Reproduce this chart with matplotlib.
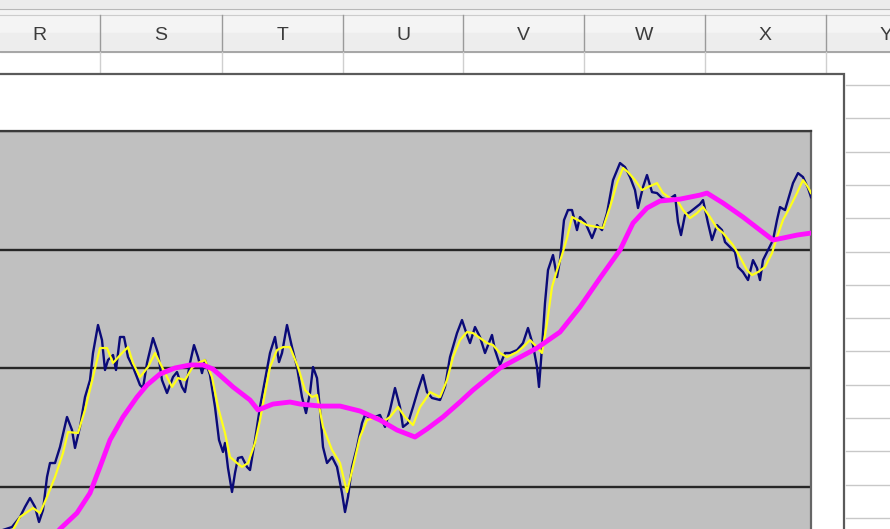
import matplotlib.pyplot as plt
from matplotlib.patches import Rectangle

# spreadsheet columns seen above the chart
col_letters = ['R', 'S', 'T', 'U', 'V', 'W', 'X', 'Y']
col_edges = [-21, 100, 222, 343, 463, 584, 705, 826, 947]

# price series (dark blue)
price_day = [3, 12, 20, 25, 30, 35, 39, 43, 47, 50, 55, 60, 67, 72, 75, 80, 85, 90, 93, 98,
             102, 105, 108, 113, 116, 120, 124, 128, 133, 140, 143, 147, 153, 158, 162, 167, 173, 177, 182, 185,
             190, 194, 198, 202, 205, 210, 215, 219, 223, 225, 228, 232, 235, 238, 242, 247, 250, 255, 260, 265,
             270, 275, 279, 282, 287, 292, 297, 302, 306, 310, 313, 317, 320, 323, 327, 332, 337, 342, 345, 348,
             352, 357, 362, 365, 370, 375, 380, 385, 390, 395, 400, 403, 408, 413, 418, 423, 427, 432, 440, 445,
             450, 457, 462, 467, 470, 475, 480, 485, 492, 495, 500, 505, 510, 517, 523, 528, 533, 537, 539, 542,
             545, 548, 553, 557, 560, 564, 568, 572, 577, 580, 585, 592, 597, 602, 607, 613, 620, 625, 630, 635,
             638, 643, 647, 652, 657, 662, 668, 675, 678, 681, 685, 690, 695, 700, 703, 708, 712, 717, 722, 725,
             730, 735, 738, 743, 748, 753, 757, 760, 763, 768, 773, 777, 780, 785, 790, 793, 798, 803, 808, 811]
price = [563.8, 566.3, 574.7, 583.2, 590.7, 583.2, 570.5, 580.6, 608.4, 620.2, 620.2, 633.7, 659.0, 648.0, 632.9, 650.6, 675.8, 690.1, 712.9, 736.5,
         723.8, 698.6, 707.0, 711.2, 698.6, 726.4, 726.4, 709.5, 701.1, 685.9, 683.4, 704.5, 725.5, 712.9, 690.1, 679.2, 692.7, 696.9, 684.3, 680.0,
         704.5, 719.6, 709.5, 696.0, 707.0, 694.4, 667.4, 639.6, 629.5, 637.1, 616.0, 595.8, 611.8, 624.4, 625.3, 616.9, 614.3, 639.6, 667.4, 690.1,
         712.9, 726.4, 705.3, 712.9, 736.5, 717.9, 701.1, 675.8, 662.3, 679.2, 701.1, 691.8, 664.9, 633.7, 620.2, 625.3, 616.9, 594.9, 578.9, 591.6,
         616.9, 633.7, 653.9, 660.7, 658.1, 659.0, 660.7, 650.6, 664.9, 683.4, 667.4, 650.6, 653.9, 667.4, 681.7, 694.4, 680.0, 675.0, 673.3, 684.3,
         709.5, 729.7, 740.7, 728.1, 721.3, 734.8, 726.4, 712.9, 728.1, 715.4, 702.8, 712.9, 712.9, 715.4, 721.3, 734.0, 719.6, 701.1, 684.3, 717.9,
         755.0, 782.8, 795.5, 776.9, 791.2, 824.9, 833.4, 833.4, 816.5, 827.5, 823.3, 809.8, 820.7, 816.5, 830.8, 858.6, 873.0, 869.6, 861.2, 850.2,
         835.1, 852.8, 862.9, 848.5, 847.7, 843.5, 841.8, 846.0, 823.3, 812.3, 829.2, 831.7, 835.1, 838.4, 841.8, 822.4, 808.1, 820.7, 816.5, 806.4,
         802.2, 798.0, 785.4, 781.1, 774.4, 791.2, 784.5, 774.4, 791.2, 799.7, 808.1, 825.0, 835.9, 833.4, 847.7, 856.1, 864.5, 861.2, 851.9, 844.3]

# short average (yellow)
short_day = [13, 20, 33, 40, 47, 55, 63, 68, 78, 85, 93, 100, 107, 113, 122, 128, 133, 140, 148, 155,
             162, 172, 178, 185, 192, 198, 205, 212, 218, 225, 230, 237, 242, 248, 255, 260, 265, 270, 277, 283,
             290, 298, 305, 312, 317, 323, 332, 340, 347, 353, 360, 367, 377, 383, 390, 398, 405, 413, 420, 427,
             430, 440, 447, 453, 460, 467, 473, 480, 487, 493, 500, 507, 517, 523, 530, 537, 542, 547, 552, 557,
             562, 567, 572, 578, 587, 597, 603, 610, 617, 623, 628, 635, 642, 648, 657, 663, 670, 677, 683, 690,
             697, 703, 710, 717, 723, 733, 740, 747, 752, 758, 765, 772, 777, 783, 790, 797, 803, 808, 811]
short_avg = [563.8, 574.7, 582.3, 578.1, 591.6, 608.4, 628.6, 646.3, 645.5, 664.9, 692.7, 717.1, 717.1, 704.5, 712.9, 717.9, 704.5, 692.7, 701.1, 712.9,
             701.1, 684.3, 691.8, 690.1, 700.3, 704.5, 707.0, 692.7, 667.4, 645.5, 625.3, 620.2, 616.9, 620.2, 637.1, 656.4, 679.2, 701.1, 715.4, 717.9,
             717.9, 701.1, 681.7, 675.8, 677.5, 650.6, 631.2, 620.2, 595.8, 616.9, 642.1, 656.4, 659.0, 654.8, 659.0, 667.4, 659.0, 652.2, 667.4, 675.8,
             680.0, 675.8, 690.1, 709.5, 723.8, 730.6, 729.7, 725.5, 721.3, 719.6, 712.9, 709.5, 713.7, 717.9, 723.8, 717.9, 712.9, 738.2, 768.5, 782.8,
             795.5, 809.8, 827.5, 824.9, 820.7, 819.1, 818.2, 835.9, 856.1, 868.8, 865.4, 858.6, 850.2, 852.8, 856.1, 847.7, 843.5, 841.8, 833.4, 826.6,
             830.8, 835.9, 827.5, 818.2, 814.0, 803.9, 793.8, 782.8, 778.6, 781.1, 785.4, 797.1, 810.6, 825.0, 835.9, 847.7, 858.6, 852.8, 847.7]

# long moving average (magenta)
long_day = [55, 60, 77, 90, 100, 110, 123, 137, 147, 160, 175, 190, 203, 213, 233, 250, 258, 273, 290, 300,
            320, 340, 360, 380, 397, 415, 427, 443, 460, 473, 500, 537, 560, 580, 600, 620, 633, 647, 660, 680,
            700, 707, 723, 743, 760, 773, 783, 797, 811]
long_avg = [559.6, 564.6, 578.1, 594.9, 616.9, 639.6, 659.0, 675.8, 685.9, 695.2, 700.3, 702.8, 702.8, 699.4, 684.3, 673.3, 664.9, 669.9, 671.6, 669.9,
            668.2, 668.2, 664.0, 656.4, 648.0, 642.1, 648.9, 659.0, 671.6, 681.7, 700.3, 717.1, 730.6, 751.7, 776.1, 799.7, 822.4, 835.1, 841.0, 842.6,
            846.0, 847.7, 839.3, 827.5, 816.5, 808.1, 809.8, 812.3, 814.0]

W, H = 890, 529
fig = plt.figure(figsize=(W / 100, H / 100), dpi=100)

# --- spreadsheet window behind the chart (pixel coords) ---
bg = fig.add_axes([0, 0, 1, 1])
bg.set_xlim(0, W)
bg.set_ylim(H, 0)
bg.axis('off')
bg.add_patch(Rectangle((0, 0), W, H, color='white', zorder=0))
bg.add_patch(Rectangle((0, 0), W, 9, color='#ececec', zorder=1))
bg.add_patch(Rectangle((0, 9), W, 6, color='#f3f3f3', zorder=1))
bg.add_patch(Rectangle((0, 15), W, 37, color='#f4f4f4', zorder=1))
bg.add_patch(Rectangle((0, 33), W, 19, color='#ededed', zorder=1))
bg.plot([0, W], [9, 9], color='#b8b8b8', lw=0.8, zorder=2)
bg.plot([0, W], [15, 15], color='#cccccc', lw=0.8, zorder=2)
bg.plot([0, W], [52, 52], color='#9a9a9a', lw=1.2, zorder=2)
for i, letter in enumerate(col_letters):
    bg.text((col_edges[i] + col_edges[i + 1]) / 2, 35, letter, ha='center', va='center',
            fontsize=14, color='#3c3c3c', family=['Liberation Sans', 'DejaVu Sans'], zorder=3)
for xe in col_edges[1:-1]:
    bg.plot([xe, xe], [15, 52], color='#9a9a9a', lw=1, zorder=2)
    bg.plot([xe, xe], [52, 74], color='#cfcfcf', lw=1, zorder=2)

# rows to the right of the chart object
for k in range(14):
    yy = 85 + k * 33.3
    bg.plot([846, W], [yy, yy], color='#c8c8c8', lw=1, zorder=2)

# chart object frame
bg.add_patch(Rectangle((-5, 74), 849, 470, facecolor='white', edgecolor='#5a5a5a', lw=1.6, zorder=4))

# --- the chart itself ---
ax = fig.add_axes([0, 0, 811 / W, (H - 131) / H])
ax.set_zorder(5)
ax.set_facecolor('#c0c0c0')
ax.plot(price_day, price, color='#0a0a78', lw=1.7, zorder=3, solid_joinstyle='round')
ax.plot(short_day, short_avg, color='#ffff1a', lw=1.6, zorder=4, solid_joinstyle='round')
ax.plot(long_day, long_avg, color='#ff10ff', lw=3.5, zorder=5, solid_joinstyle='round')

ax.set_xlim(0, 811)
ax.set_ylim(564.6, 900)
ax.set_yticks([600, 700, 800, 900])
ax.set_xticks([])
ax.yaxis.grid(True, color='#262626', lw=1.7)
ax.set_axisbelow(True)
ax.tick_params(left=False, labelleft=False)
ax.spines['left'].set_visible(False)
ax.spines['bottom'].set_visible(False)
ax.spines['top'].set_color('#3a3a3a')
ax.spines['top'].set_linewidth(1.6)
ax.spines['right'].set_color('#666666')
ax.spines['right'].set_linewidth(1.6)

fig.savefig('out.png', dpi=100)
